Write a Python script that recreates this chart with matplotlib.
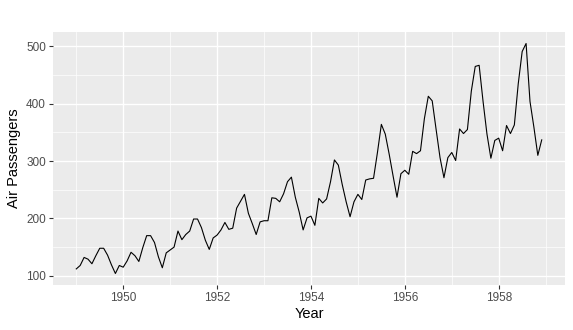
import numpy as np
import matplotlib.pyplot as plt
from matplotlib.ticker import MultipleLocator

# AirPassengers, monthly totals 1949-1958
passengers = [
    112, 118, 132, 129, 121, 135, 148, 148, 136, 119, 104, 118,
    115, 126, 141, 135, 125, 149, 170, 170, 158, 133, 114, 140,
    145, 150, 178, 163, 172, 178, 199, 199, 184, 162, 146, 166,
    171, 180, 193, 181, 183, 218, 230, 242, 209, 191, 172, 194,
    196, 196, 236, 235, 229, 243, 264, 272, 237, 211, 180, 201,
    204, 188, 235, 227, 234, 264, 302, 293, 259, 229, 203, 229,
    242, 233, 267, 269, 270, 315, 364, 347, 312, 274, 237, 278,
    284, 277, 317, 313, 318, 374, 413, 405, 355, 306, 271, 306,
    315, 301, 356, 348, 355, 422, 465, 467, 404, 347, 305, 336,
    340, 318, 362, 348, 363, 435, 491, 505, 404, 359, 310, 337,
]
start_year = 1949
x_ticks = [1950, 1952, 1954, 1956, 1958]
y_ticks = [100, 200, 300, 400, 500]

plt.rcParams['font.family'] = ['Liberation Sans', 'DejaVu Sans']

years = start_year + np.arange(len(passengers)) / 12.0
vals = np.array(passengers)

fig = plt.figure(figsize=(5.73, 3.30), dpi=100)
ax = fig.add_axes([53 / 573, 45 / 330, 512 / 573, 253 / 330])
ax.set_facecolor('#EBEBEB')

# ggplot-style 5% expansion
xr = years.max() - years.min()
yr = vals.max() - vals.min()
ax.set_xlim(years.min() - 0.05 * xr, years.max() + 0.05 * xr)
ax.set_ylim(vals.min() - 0.05 * yr, vals.max() + 0.05 * yr)

ax.set_xticks(x_ticks)
ax.set_yticks(y_ticks)
ax.xaxis.set_minor_locator(MultipleLocator(1))
ax.yaxis.set_minor_locator(MultipleLocator(50))
ax.grid(which='major', color='white', linewidth=1.0)
ax.grid(which='minor', color='white', linewidth=0.5)
ax.set_axisbelow(True)

ax.plot(years, vals, color='black', linewidth=0.8)

for s in ax.spines.values():
    s.set_visible(False)
ax.tick_params(which='major', length=3, width=0.8, color='#333333',
               labelsize=8.5, labelcolor='#4D4D4D', pad=2)
ax.tick_params(which='minor', length=0)

ax.set_xlabel('Year', fontsize=10.5, labelpad=2)
ax.set_ylabel('Air Passengers', fontsize=10.5, labelpad=4)

fig.savefig('out.png', dpi=100, facecolor='white')
